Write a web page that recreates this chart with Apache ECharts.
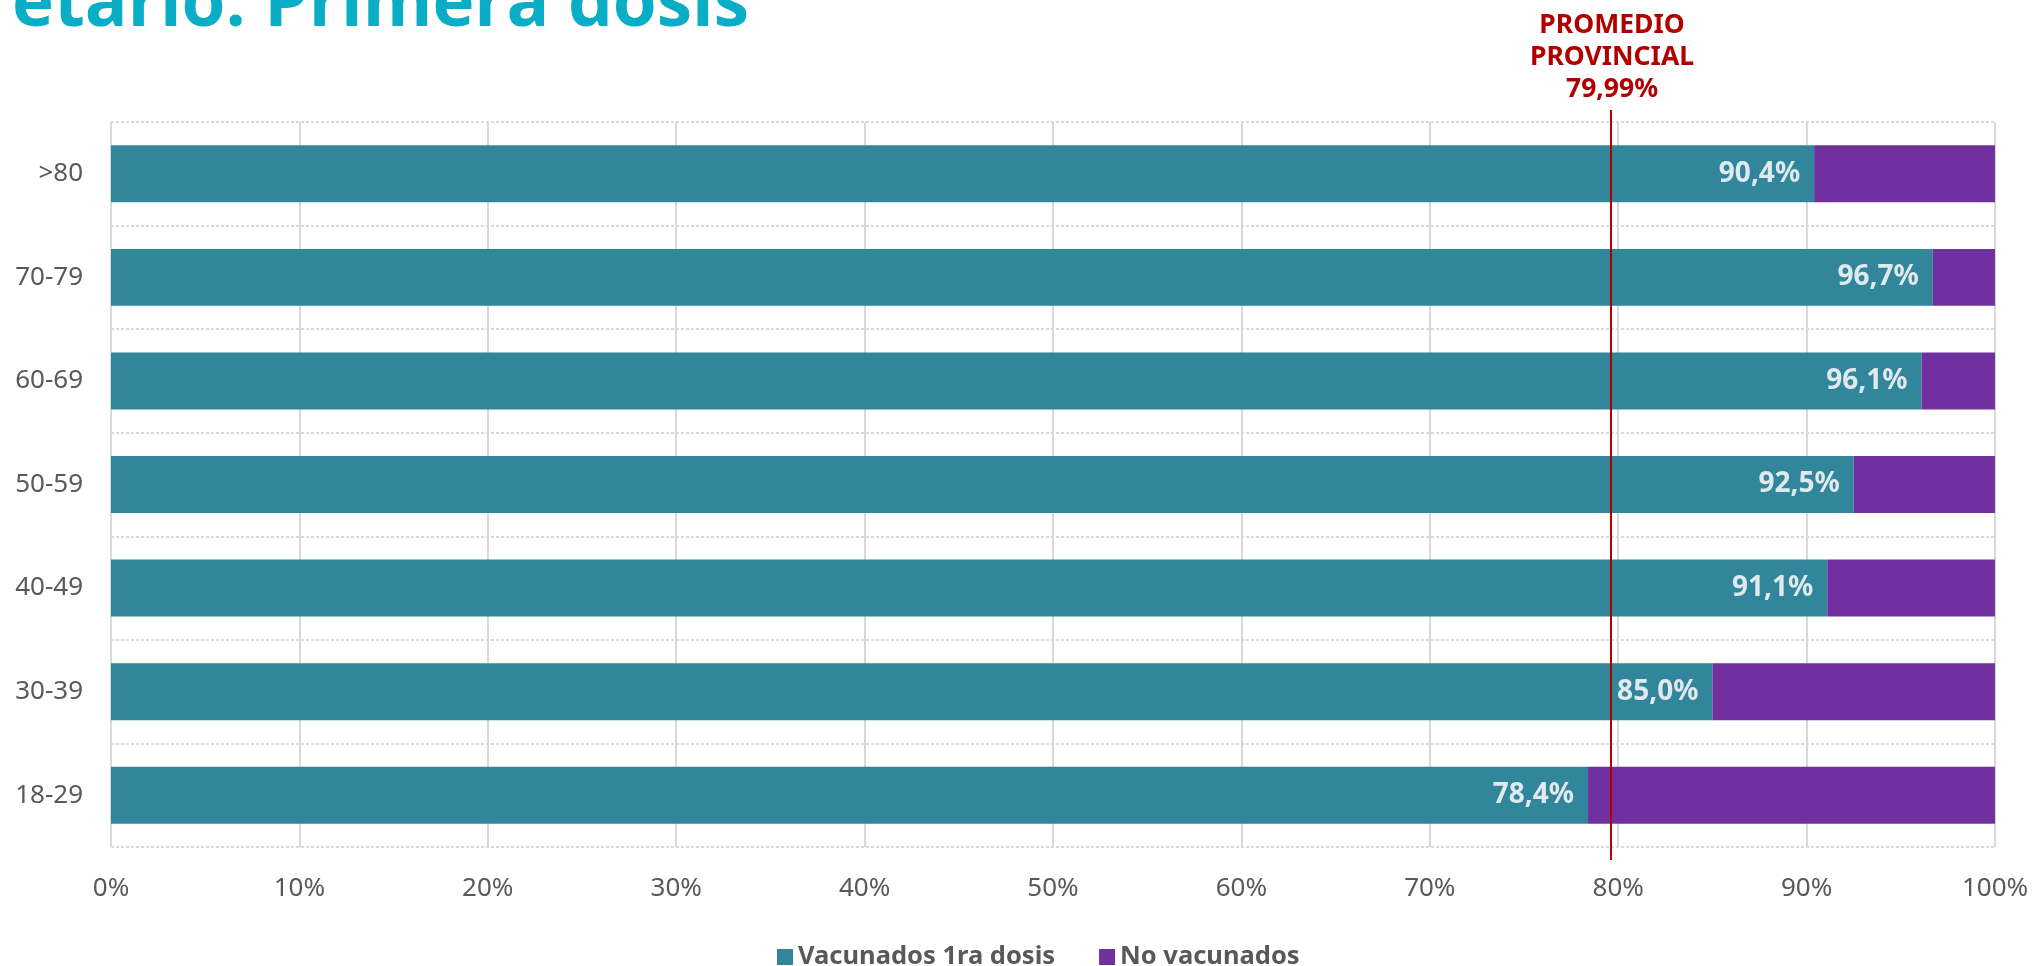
<!DOCTYPE html>
<html>
<head>
<meta charset="utf-8">
<script src="https://cdn.jsdelivr.net/npm/echarts@6/dist/echarts.min.js"></script>
<style>
  html, body { margin: 0; padding: 0; background: #fff; }
  #chart { width: 2037px; height: 966px; }
</style>
</head>
<body>
<div id="chart"></div>
<script>
// grupos etarios (de abajo hacia arriba)
const categories = ["18-29", "30-39", "40-49", "50-59", "60-69", "70-79", ">80"];
// % vacunados con 1ra dosis
const vacunados = [78.4, 85.0, 91.1, 92.5, 96.1, 96.7, 90.4];
// % no vacunados
const noVacunados = [21.6, 15.0, 8.9, 7.5, 3.9, 3.3, 9.6];
// promedio provincial
const promedio = [79.99];

const chart = echarts.init(document.getElementById("chart"));

chart.setOption({
  animation: false,
  textStyle: { fontFamily: "Noto Sans" },
  graphic: [
    {
      type: "text",
      left: 12,
      top: -30,
      style: {
        text: "etario: Primera dosis",
        fontFamily: "Open Sans",
        fontWeight: "bold",
        fontSize: 71,
        fill: "#09aec6",
      },
    },
  ],
  legend: {
    top: 939,
    left: 772,
    itemWidth: 16,
    itemHeight: 16,
    itemGap: 44,
    icon: "rect",
    textStyle: { color: "#595959", fontSize: 25.5, fontWeight: "bold" },
    data: ["Vacunados 1ra dosis", "No vacunados"],
  },
  grid: { left: 111, right: 42, top: 122, bottom: 119 },
  xAxis: {
    type: "value",
    min: 0,
    max: 100,
    interval: 10,
    axisLabel: {
      formatter: "{value}%",
      color: "#595959",
      fontSize: 26,
      margin: 29,
    },
    axisLine: { show: false },
    axisTick: { show: false },
    splitLine: { show: true, lineStyle: { color: "#d9d9d9", width: 2 } },
  },
  yAxis: {
    type: "category",
    data: categories,
    axisLabel: { color: "#595959", fontSize: 26, margin: 28 },
    axisLine: { show: false },
    axisTick: { show: false },
    splitLine: {
      show: true,
      lineStyle: { color: "#d9d9d9", width: 2, type: [3, 2] },
    },
  },
  series: [
    {
      name: "Vacunados 1ra dosis",
      type: "bar",
      stack: "total",
      barWidth: "55%",
      itemStyle: { color: "#31869c" },
      label: {
        show: true,
        position: "insideRight",
        distance: 14,
        color: "#e0e9ee",
        fontSize: 28,
        fontWeight: "bold",
        formatter: (p) => p.value.toFixed(1).replace(".", ",") + "%",
      },
      data: vacunados,
    },
    {
      name: "No vacunados",
      type: "bar",
      stack: "total",
      barWidth: "55%",
      itemStyle: { color: "#7030a0" },
      data: noVacunados,
    },
    {
      // línea del promedio provincial
      type: "custom",
      silent: true,
      z: 10,
      data: promedio.map((v) => [v]),
      encode: { x: 0 },
      renderItem: function (params, api) {
        const cs = params.coordSys;
        const x = api.coord([api.value(0), 0])[0] - 7;
        const label = "PROMEDIO\nPROVINCIAL\n" + api.value(0).toFixed(2).replace(".", ",") + "%";
        return {
          type: "group",
          children: [
            {
              type: "line",
              shape: { x1: x, y1: cs.y - 12, x2: x, y2: cs.y + cs.height + 13 },
              style: { stroke: "#b00000", lineWidth: 2 },
            },
            {
              type: "text",
              x: x + 1,
              y: 57,
              style: {
                text: label,
                align: "center",
                verticalAlign: "middle",
                fontFamily: "Noto Sans",
                fontWeight: "bold",
                fontSize: 26.5,
                lineHeight: 32,
                fill: "#b00000",
              },
            },
          ],
        };
      },
    },
  ],
});
</script>
</body>
</html>
